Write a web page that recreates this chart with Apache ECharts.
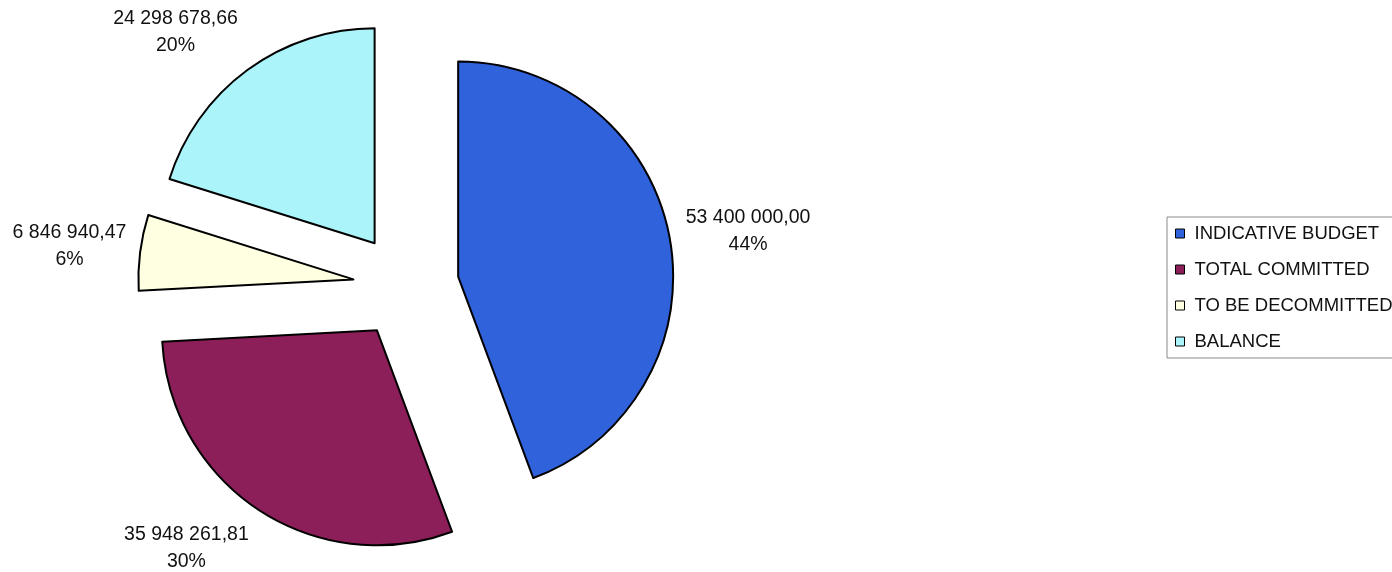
<!DOCTYPE html>
<html>
<head>
<meta charset="utf-8">
<title>Budget breakdown</title>
<script src="https://cdn.jsdelivr.net/npm/echarts@6/dist/echarts.min.js"></script>
<style>
  html, body { margin: 0; padding: 0; background: #ffffff; }
  #chart { width: 1392px; height: 572px; }
</style>
</head>
<body>
<div id="chart"></div>
<script>
// Budget categories and amounts (EUR)
const categories = ['INDICATIVE BUDGET', 'TOTAL COMMITTED', 'TO BE DECOMMITTED', 'BALANCE'];
const amounts = [53400000.00, 35948261.81, 6846940.47, 24298678.66];
const sliceColors = ['#3062DC', '#8C1E5A', '#FFFFE2', '#AAF4FA'];

// Guide-line lengths used only to place each outside label (lines themselves are hidden)
const labelLength = [42, 45, 52, 47];
const labelLength2 = [-33, -22, -51, -26];

const FONT = 'Arial, "Liberation Sans", sans-serif';

// "53 400 000,00" style: space thousands separator, comma decimal
function formatAmount(v) {
  const parts = v.toFixed(2).split('.');
  const int = parts[0].replace(/\B(?=(\d{3})+(?!\d))/g, ' ');
  return int + ',' + parts[1];
}

const pieData = categories.map((name, i) => ({
  name: name,
  value: amounts[i],
  selected: true,
  itemStyle: { color: sliceColors[i] },
  labelLine: { show: false, length: labelLength[i], length2: labelLength2[i] }
}));

const chart = echarts.init(document.getElementById('chart'), null, { renderer: 'canvas' });

chart.setOption({
  animation: false,
  backgroundColor: '#ffffff',
  textStyle: { fontFamily: FONT },
  legend: {
    orient: 'vertical',
    left: 1167,
    top: 217,
    padding: [7, 40, 7, 8],
    itemWidth: 9,
    itemHeight: 9,
    itemGap: 17,
    icon: 'rect',
    borderColor: '#8a8a8a',
    borderWidth: 1,
    selectedMode: false,
    itemStyle: { borderColor: '#000', borderWidth: 1 },
    textStyle: { fontFamily: FONT, fontSize: 18.5, color: '#111', padding: [0, 0, 0, 5] },
    data: categories
  },
  series: [{
    type: 'pie',
    center: [406, 286],
    radius: 215,
    startAngle: 90,
    clockwise: true,
    selectedMode: 'multiple',
    selectedOffset: 53,
    avoidLabelOverlap: false,
    itemStyle: { borderColor: '#000', borderWidth: 2 },
    select: { itemStyle: { borderColor: '#000', borderWidth: 2 } },
    emphasis: { disabled: true },
    label: {
      show: true,
      position: 'outside',
      color: '#111',
      distanceToLabelLine: 5,
      formatter: p => '{v|' + formatAmount(p.value) + '}\n{v|' + Math.round(p.percent) + '%}',
      rich: {
        v: { width: 130, align: 'center', fontFamily: FONT, fontSize: 19.5, lineHeight: 27, color: '#111' }
      }
    },
    data: pieData
  }]
});
</script>
</body>
</html>
